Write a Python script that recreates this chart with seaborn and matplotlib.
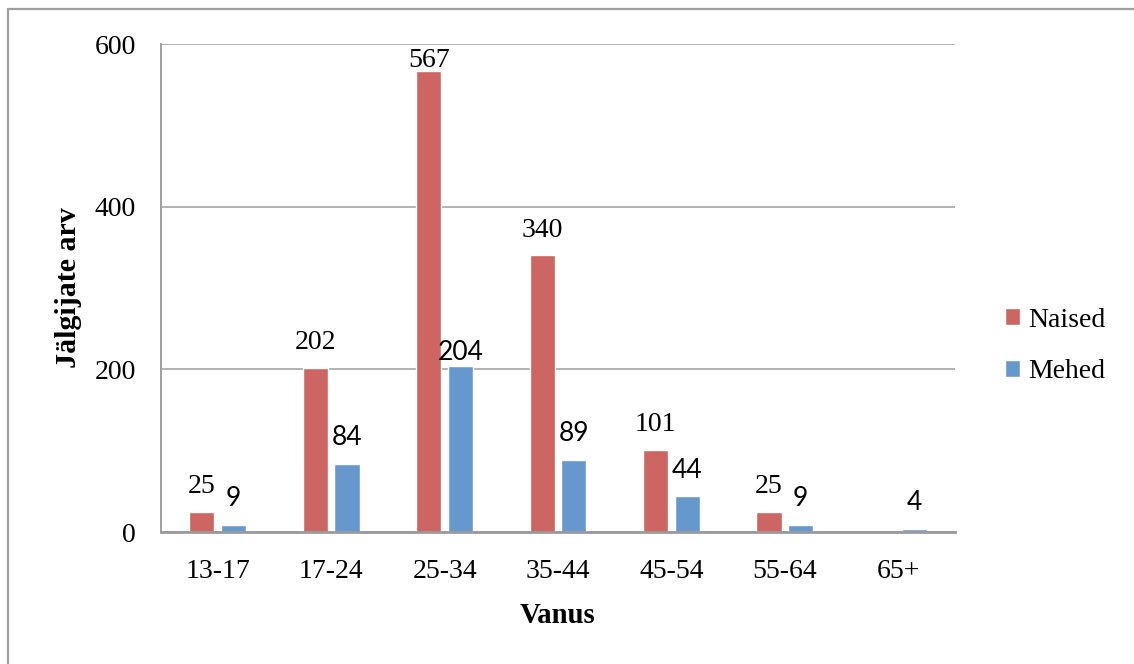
import matplotlib
matplotlib.use("Agg")
import matplotlib.pyplot as plt
from matplotlib.lines import Line2D
import seaborn as sns
import pandas as pd
import numpy as np

# ---- data ----
categories = ["13-17", "17-24", "25-34", "35-44", "45-54", "55-64", "65+"]
naised = [25, 202, 567, 340, 101, 25, np.nan]
mehed = [9, 84, 204, 89, 44, 9, 4]
series_names = ["Naised", "Mehed"]
y_ticks = [0, 200, 400, 600]
x_label = "Vanus"
y_label = "Jälgijate arv"

colors = {"Naised": "#CD6662", "Mehed": "#6698CD"}

df = pd.DataFrame({
    "Vanus": categories * 2,
    "Sugu": [series_names[0]] * len(categories) + [series_names[1]] * len(categories),
    "Arv": list(naised) + list(mehed),
})

sns.set_style("white")
plt.rcParams["font.family"] = ["Liberation Serif", "DejaVu Serif"]
plt.rcParams["text.color"] = "black"
plt.rcParams["axes.labelcolor"] = "black"
plt.rcParams["xtick.color"] = "black"
plt.rcParams["ytick.color"] = "black"

W, H = 1134, 664
fig = plt.figure(figsize=(W / 100, H / 100), dpi=100)
ax = fig.add_axes([161 / W, 1 - 532 / H, (955 - 161) / W, (532 - 44) / H])

sns.barplot(data=df, x="Vanus", y="Arv", hue="Sugu", order=categories,
            hue_order=series_names, palette=colors, width=0.56, gap=0.21,
            saturation=1, errorbar=None, ax=ax, legend=True)

ax.set_ylim(0, 600)
ax.set_xlim(-0.5, len(categories) - 0.5)
ax.set_yticks(y_ticks)
ax.grid(axis="y", color="#A6A6A6", lw=1.2)
ax.set_axisbelow(True)
for s in ["top", "right"]:
    ax.spines[s].set_visible(False)
ax.spines["left"].set_color("#A0A0A0")
ax.spines["left"].set_linewidth(1.4)
ax.spines["bottom"].set_color("#9A9A9A")
ax.spines["bottom"].set_linewidth(2)
ax.tick_params(axis="both", length=0, labelsize=20, labelcolor="black")
ax.tick_params(axis="y", pad=18)
ax.tick_params(axis="x", pad=19.5)

ax.set_xlabel(x_label, fontsize=20.7, fontweight="bold", labelpad=13, color="black")
ax.set_ylabel(y_label, fontsize=21.5, fontweight="bold", labelpad=9, color="black")

# data labels (offsets in data units above bar top)
label_offset = 23
label_ceiling = 572
label_nudge = {("Mehed", "25-34"): -15}
for i, container in enumerate(ax.containers):
    name = series_names[i]
    vals = naised if name == "Naised" else mehed
    for bar, v, cat in zip(container, vals, categories):
        if v is None or (isinstance(v, float) and np.isnan(v)):
            continue
        x = bar.get_x() + bar.get_width() / 2
        y = min(v + label_offset + label_nudge.get((name, cat), 0), label_ceiling)
        if name == "Naised":
            ax.text(x, y, f"{int(v)}", ha="center", va="baseline", fontsize=20,
                    color="black", family=["Liberation Serif"])
        else:
            ax.text(x, y, f"{int(v)}", ha="center", va="baseline", fontsize=19,
                    color="black", family=["Lato", "DejaVu Sans"])

leg = ax.legend(loc="center left", bbox_to_anchor=(1005 / W, 1 - 346 / H),
                bbox_transform=fig.transFigure, frameon=False, fontsize=20,
                handlelength=0.55, handleheight=0.55, handletextpad=0.3,
                labelspacing=0.96, borderpad=0, borderaxespad=0, title=None)
for t in leg.get_texts():
    t.set_color("black")

# outer chart frame (left and top edges visible)
fig.add_artist(Line2D([8 / W, 8 / W], [0, 1 - 9 / H], transform=fig.transFigure,
                      color="#A0A0A0", lw=1.6))
fig.add_artist(Line2D([8 / W, 1], [1 - 9 / H, 1 - 9 / H], transform=fig.transFigure,
                      color="#A0A0A0", lw=1.6))

fig.savefig("out.png", dpi=100)
